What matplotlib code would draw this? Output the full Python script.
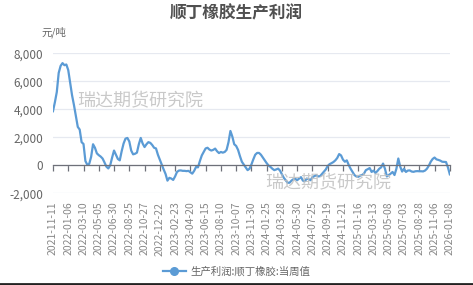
import numpy as np
import matplotlib
matplotlib.use("Agg")
from matplotlib import pyplot as plt
from matplotlib.lines import Line2D

plt.rcParams['font.family'] = ['Noto Sans CJK SC', 'DejaVu Sans']

# 生产利润:顺丁橡胶:当周值 (元/吨), weekly
profit = [3860, 4500, 5230, 6600, 7100, 7300, 7150, 7200, 6800, 5900,
          5000, 4300, 3500, 2740, 2550, 1650, 1520, 300, 30, 100,
          600, 1500, 1250, 850, 720, 620, 480, 200, -100, -230,
          0, 550, 1050, 750, 450, 350, 1000, 1550, 1900, 1950,
          1700, 1050, 780, 820, 900, 1500, 1950, 1550, 1300, 1500,
          1650, 1600, 1450, 1250, 1200, 750, 400, 50, -300, -620,
          -1100, -900, -950, -1050, -800, -480, -380, -370, -400, -400,
          -420, -400, -500, -600, -400, -120, -150, 300, 700, 950,
          1200, 1250, 1120, 1050, 1100, 1190, 1000, 870, 950, 900,
          950, 1100, 1650, 2450, 2050, 1500, 1380, 1100, 650, 250,
          50, -150, -350, -250, 50, 420, 750, 880, 880, 750,
          550, 360, 150, -20, -120, -250, -350, -300, -240, -380,
          -650, -900, -1080, -1250, -1250, -1100, -1000, -970, -1070, -950,
          -850, -1100, -1150, -950, -1000, -1070, -850, -780, -710, -800,
          -780, -620, -450, -300, -50, 80, 150, 230, 350, 520,
          800, 700, 400, 250, 350, 20, -250, -480, -700, -800,
          -830, -740, -700, -600, -350, -280, -200, -480, -380, -550,
          -420, -250, -150, 120, -250, -800, -700, -600, -480, -700,
          -250, 480, -100, -450, -250, -480, -380, -370, -450, -470,
          -430, -420, -430, -430, -440, -380, -250, -30, 250, 450,
          550, 420, 380, 330, 250, 240, 230, -150, -650]

tick_labels = ['2021-11-11', '2022-01-06', '2022-03-10', '2022-05-05', '2022-06-30',
               '2022-08-25', '2022-10-27', '2022-12-22', '2023-02-23', '2023-04-20',
               '2023-06-15', '2023-08-10', '2023-10-07', '2023-11-30', '2024-01-25',
               '2024-03-28', '2024-05-30', '2024-07-25', '2024-09-19', '2024-11-21',
               '2025-01-16', '2025-03-13', '2025-05-08', '2025-07-03', '2025-08-28',
               '2025-11-06', '2026-01-08']

x = np.arange(len(profit))
tick_pos = np.arange(len(tick_labels)) * 8

fig = plt.figure(figsize=(4.73, 2.85), dpi=100)
ax = fig.add_axes([0.112, 0.322, 0.839, 0.491])

grey = '#6e7079'
ax.plot(x, profit, color='#5b9bd5', lw=1.6, solid_joinstyle='round')

ax.set_xlim(0, len(profit) - 1)
ax.set_ylim(-2000, 8000)
ax.set_yticks([-2000, 0, 2000, 4000, 6000, 8000])
ax.set_yticklabels(['-2,000', '0', '2,000', '4,000', '6,000', '8,000'],
                   fontsize=8.5, color='#666666')
ax.tick_params(axis='y', length=0, pad=7)
ax.grid(axis='y', color='#e6e9f0', lw=0.9)
ax.set_axisbelow(True)

for s in ['top', 'right', 'left']:
    ax.spines[s].set_visible(False)
ax.spines['bottom'].set_position(('data', 0))
ax.spines['bottom'].set_color(grey)
ax.spines['bottom'].set_linewidth(0.9)
ax.set_xticks(tick_pos)
ax.set_xticklabels([])
ax.tick_params(axis='x', length=4, color=grey, width=0.9)

sec = ax.secondary_xaxis('bottom')
sec.set_xticks(tick_pos)
sec.set_xticklabels(tick_labels, rotation=90, fontsize=7.5, color='#888888')
sec.tick_params(length=0, pad=6)
sec.spines['bottom'].set_visible(False)

fig.text(0.5, 0.952, '顺丁橡胶生产利润', ha='center', va='center',
         fontsize=12, fontweight='bold', color='#505050')
fig.text(0.113, 0.888, '元/吨', ha='center', va='center', fontsize=7.5, color='#666666')

ax.text(0.06, 0.66, '瑞达期货研究院', transform=ax.transAxes, fontsize=13,
        color='#c0c0c0', alpha=0.85, va='center')
ax.text(0.534, 0.074, '瑞达期货研究院', transform=ax.transAxes, fontsize=13,
        color='#c0c0c0', alpha=0.85, va='center')

h = Line2D([], [], color='#5b9bd5', lw=1.6, marker='o', markersize=5.5)
fig.legend([h], ['生产利润:顺丁橡胶:当周值'], loc='center', bbox_to_anchor=(0.5, 0.048),
           frameon=False, fontsize=7.5, labelcolor='#666666', handlelength=2.2,
           handletextpad=0.4)

fig.add_artist(Line2D([0, 1], [0.004, 0.004], transform=fig.transFigure,
                      color='#222222', lw=2))

fig.savefig('out.png', dpi=100, facecolor='white')
